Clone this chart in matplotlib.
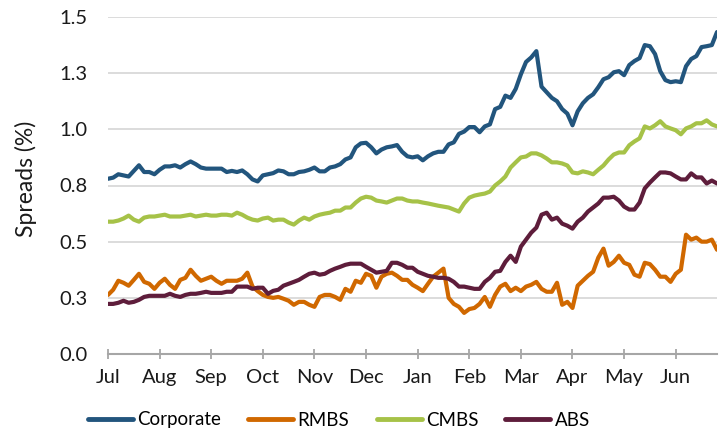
import numpy as np
import matplotlib
matplotlib.use("Agg")
import matplotlib.pyplot as plt

months = ["Jul", "Aug", "Sep", "Oct", "Nov", "Dec", "Jan", "Feb", "Mar", "Apr", "May", "Jun"]
yticks = [0.0, 0.25, 0.5, 0.75, 1.0, 1.25, 1.5]
ytick_labels = ["0.0", "0.3", "0.5", "0.8", "1.0", "1.3", "1.5"]

corporate = [0.78, 0.785, 0.80, 0.795, 0.79, 0.815, 0.84, 0.81, 0.81, 0.80,
             0.82, 0.835, 0.835, 0.84, 0.83, 0.845, 0.857, 0.845, 0.83, 0.825,
             0.825, 0.825, 0.825, 0.81, 0.815, 0.81, 0.817, 0.80, 0.777, 0.768,
             0.795, 0.80, 0.805, 0.817, 0.813, 0.80, 0.80, 0.81, 0.813, 0.82,
             0.83, 0.813, 0.813, 0.83, 0.835, 0.845, 0.866, 0.875, 0.92, 0.9375,
             0.94, 0.92, 0.893, 0.91, 0.92, 0.924, 0.93, 0.90, 0.88, 0.875,
             0.88, 0.862, 0.88, 0.893, 0.90, 0.90, 0.933, 0.942, 0.98, 0.99,
             1.01, 1.01, 0.987, 1.013, 1.022, 1.09, 1.10, 1.15, 1.14, 1.18,
             1.245, 1.30, 1.32, 1.348, 1.19, 1.165, 1.14, 1.125, 1.09, 1.07,
             1.018, 1.08, 1.116, 1.14, 1.156, 1.1875, 1.223, 1.232, 1.254, 1.259,
             1.241, 1.286, 1.304, 1.317, 1.375, 1.37, 1.335, 1.259, 1.219, 1.21,
             1.214, 1.21, 1.281, 1.313, 1.326, 1.366, 1.37, 1.375, 1.433]

rmbs = [0.263, 0.286, 0.326, 0.317, 0.304, 0.33, 0.357, 0.321, 0.3125, 0.29,
        0.317, 0.335, 0.308, 0.29, 0.33, 0.339, 0.375, 0.348, 0.326, 0.335,
        0.344, 0.326, 0.3125, 0.326, 0.326, 0.326, 0.335, 0.362, 0.30, 0.28,
        0.263, 0.254, 0.25, 0.254, 0.246, 0.237, 0.219, 0.232, 0.232, 0.219,
        0.21, 0.254, 0.263, 0.263, 0.254, 0.241, 0.29, 0.277, 0.326, 0.317,
        0.357, 0.348, 0.295, 0.344, 0.357, 0.362, 0.348, 0.33, 0.33, 0.308,
        0.295, 0.28, 0.3125, 0.344, 0.362, 0.38, 0.25, 0.223, 0.21, 0.183,
        0.20, 0.205, 0.223, 0.254, 0.21, 0.263, 0.30, 0.3125, 0.28, 0.295,
        0.28, 0.30, 0.308, 0.321, 0.29, 0.277, 0.277, 0.317, 0.219, 0.232,
        0.205, 0.304, 0.326, 0.348, 0.366, 0.429, 0.469, 0.393, 0.41, 0.4375,
        0.406, 0.397, 0.353, 0.344, 0.406, 0.40, 0.375, 0.344, 0.344, 0.321,
        0.357, 0.375, 0.531, 0.509, 0.518, 0.50, 0.50, 0.509, 0.464]

cmbs = [0.589, 0.589, 0.594, 0.603, 0.616, 0.598, 0.589, 0.607, 0.612, 0.612,
        0.616, 0.62, 0.612, 0.612, 0.612, 0.616, 0.62, 0.612, 0.616, 0.62,
        0.616, 0.616, 0.62, 0.62, 0.616, 0.629, 0.62, 0.607, 0.598, 0.594,
        0.603, 0.607, 0.594, 0.598, 0.598, 0.585, 0.576, 0.594, 0.607, 0.598,
        0.612, 0.62, 0.625, 0.629, 0.638, 0.638, 0.652, 0.652, 0.674, 0.692,
        0.70, 0.696, 0.683, 0.679, 0.674, 0.683, 0.692, 0.692, 0.683, 0.679,
        0.679, 0.674, 0.67, 0.665, 0.66, 0.656, 0.652, 0.643, 0.634, 0.67,
        0.696, 0.705, 0.71, 0.714, 0.723, 0.75, 0.768, 0.79, 0.83, 0.853,
        0.875, 0.879, 0.893, 0.893, 0.884, 0.87, 0.853, 0.853, 0.848, 0.839,
        0.808, 0.804, 0.813, 0.808, 0.80, 0.82, 0.839, 0.866, 0.888, 0.897,
        0.897, 0.929, 0.946, 0.96, 1.013, 1.004, 1.018, 1.036, 1.013, 1.004,
        0.996, 0.978, 1.004, 1.013, 1.027, 1.027, 1.04, 1.022, 1.013]

abs_ = [0.223, 0.223, 0.228, 0.237, 0.228, 0.232, 0.241, 0.254, 0.259, 0.259,
        0.259, 0.259, 0.268, 0.259, 0.254, 0.263, 0.268, 0.268, 0.272, 0.277,
        0.272, 0.272, 0.272, 0.277, 0.277, 0.30, 0.30, 0.30, 0.29, 0.295,
        0.295, 0.268, 0.281, 0.286, 0.304, 0.3125, 0.321, 0.33, 0.344, 0.357,
        0.362, 0.353, 0.357, 0.37, 0.38, 0.388, 0.397, 0.402, 0.402, 0.402,
        0.388, 0.375, 0.362, 0.366, 0.37, 0.406, 0.406, 0.397, 0.384, 0.384,
        0.366, 0.357, 0.348, 0.344, 0.339, 0.339, 0.335, 0.321, 0.30, 0.30,
        0.295, 0.29, 0.29, 0.321, 0.339, 0.366, 0.37, 0.41, 0.4375, 0.41,
        0.478, 0.509, 0.54, 0.5625, 0.62, 0.629, 0.598, 0.607, 0.58, 0.571,
        0.558, 0.589, 0.607, 0.634, 0.652, 0.67, 0.696, 0.696, 0.70, 0.683,
        0.656, 0.643, 0.643, 0.674, 0.737, 0.763, 0.786, 0.808, 0.808, 0.804,
        0.79, 0.777, 0.777, 0.804, 0.786, 0.786, 0.759, 0.772, 0.759]

series_names = ["Corporate", "RMBS", "CMBS", "ABS"]
series_values = [corporate, rmbs, cmbs, abs_]
colors = ["#22557D", "#D06800", "#A6C248", "#5E1D3B"]

months_elapsed = np.arange(len(corporate)) * 0.1

plt.rcParams['font.family'] = ['Lato', 'DejaVu Sans']
fig = plt.figure(figsize=(7.2, 4.34), dpi=100)
ax = fig.add_axes([108/720, 1 - 354/434, (717-108)/720, (354-17)/434])

for name, vals, c in zip(series_names, series_values, colors):
    ax.plot(months_elapsed, vals, color=c, lw=3.0, label=name,
            solid_joinstyle='round', solid_capstyle='round')

ax.set_xlim(0, months_elapsed[-1])
ax.set_ylim(0, 1.5)
ax.set_yticks(yticks)
ax.set_yticklabels(ytick_labels)
ax.set_xticks(np.arange(len(months)))
ax.set_xticklabels(months)
ax.grid(axis='y', color='#D9D9D9', lw=1.3)
ax.set_axisbelow(True)
for s in ['left', 'right', 'top']:
    ax.spines[s].set_visible(False)
ax.spines['bottom'].set_color('#A6A6A6')
ax.spines['bottom'].set_linewidth(1.5)
ax.tick_params(axis='y', length=0, pad=15, labelsize=14.5, labelcolor='#1a1a1a')
ax.tick_params(axis='x', direction='inout', length=7, width=1.3, color='#A6A6A6',
               pad=7, labelsize=14.5, labelcolor='#1a1a1a')

fig.text(26/720, 1 - 179/434, "Spreads (%)", rotation=90, ha='center', va='center',
         fontsize=16.5, color='#1a1a1a')

leg = fig.legend(loc='center', bbox_to_anchor=(339/720, 1 - 420/434), ncol=4,
                 frameon=False, fontsize=13.5, handlelength=2.4, handletextpad=0.22,
                 columnspacing=1.45)
for line in leg.get_lines():
    line.set_linewidth(3.5)

fig.savefig("out.png", dpi=100)
